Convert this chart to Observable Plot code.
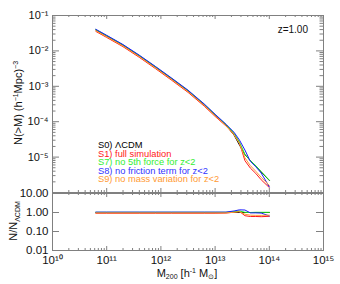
<!DOCTYPE html>
<html><head><meta charset="utf-8">
<script src="https://cdn.jsdelivr.net/npm/d3@7"></script>
<script src="https://cdn.jsdelivr.net/npm/@observablehq/plot@0.6"></script>
<style>
body{margin:0;background:#fff;}
#wrap{position:relative;width:340px;height:284px;font-family:"Liberation Sans",Arial,sans-serif;}
#wrap svg{position:absolute;left:0;overflow:visible;}
</style></head>
<body><div id="wrap"></div>
<script>
// log10 of halo mass M200 [h^-1 Msun]
const logM = [10.8, 11.0, 11.3, 11.6, 11.9, 12.2, 12.5, 12.8, 13.0, 13.2, 13.35, 13.45, 13.55, 13.65, 13.75, 13.85, 14.0];
// log10 of N(>M) [(h^-1 Mpc)^-3] for each simulation
const S0 = [-1.41,-1.58,-1.84,-2.14,-2.46,-2.79,-3.13,-3.52,-3.81,-4.09,-4.38,-4.66,-4.93,-5.10,-5.25,-5.42,-5.66];
const S1 = [-1.45,-1.62,-1.88,-2.18,-2.50,-2.83,-3.17,-3.56,-3.85,-4.12,-4.36,-4.60,-5.10,-5.31,-5.46,-5.64,-5.86];
const S7 = [-1.40,-1.57,-1.83,-2.13,-2.45,-2.78,-3.12,-3.51,-3.80,-4.08,-4.33,-4.58,-4.92,-5.10,-5.24,-5.41,-5.65];
const S8 = [-1.39,-1.56,-1.82,-2.12,-2.44,-2.77,-3.11,-3.50,-3.79,-4.07,-4.30,-4.52,-4.80,-5.12,-5.27,-5.45,-5.84];
const S9 = [-1.43,-1.60,-1.86,-2.16,-2.48,-2.81,-3.15,-3.54,-3.83,-4.11,-4.37,-4.62,-5.02,-5.24,-5.40,-5.57,-5.80];

const seriesNames = ["S1) full simulation","S7) no 5th force for z<2","S8) no friction term for z<2","S9) no mass variation for z<2","S0) \u039BCDM"];
const seriesColors = ["#ff1a1a","#22ee22","#1a1aff","#ff9a33","#000000"];
const legendOrder = ["S0) \u039BCDM","S1) full simulation","S7) no 5th force for z<2","S8) no friction term for z<2","S9) no mass variation for z<2"];
const legendColors = ["#000000","#ff1a1a","#33ee33","#3333ff","#ff9a33"];

const xTickLabels = ["10\u00B9\u2070","10\u00B9\u00B9","10\u00B9\u00B2","10\u00B9\u00B3","10\u00B9\u2074","10\u00B9\u2075"];
const xTickValues = [1e10,1e11,1e12,1e13,1e14,1e15];
const yTickLabels = ["10\u207B\u00B9","10\u207B\u00B2","10\u207B\u00B3","10\u207B\u2074","10\u207B\u2075"];
const yTickValues = [1e-1,1e-2,1e-3,1e-4,1e-5];
const rTickLabels = ["10.00","1.00","0.10","0.01"];
const rTickValues = [10,1,0.1,0.01];

const allSeries = [S1,S7,S8,S9,S0];
const rows = [], ratioRows = [];
allSeries.forEach((s,k)=>{
  s.forEach((v,i)=>{
    rows.push({name:seriesNames[k], M:Math.pow(10,logM[i]), N:Math.pow(10,v), k});
    ratioRows.push({name:seriesNames[k], M:Math.pow(10,logM[i]), R:Math.pow(10,v - S0[i]), k});
  });
});

function minors(lo, hi){ const out=[]; for(let e=lo;e<hi;e++) for(let m=2;m<=9;m++) out.push(m*Math.pow(10,e)); return out; }
const xMinor = minors(10,15);
const yMajorAll = [1e-6,1e-5,1e-4,1e-3,1e-2,1e-1];
const yMinor = minors(-6,-1);

const W=340, ML=52, MR=17;
const frameC = "#808080";
const font = "Liberation Sans, Arial, sans-serif";

// main panel
const H1 = 193, MT1 = 15, MB1 = 1;
const fh1 = H1-MT1-MB1;
const colorScale = {domain: seriesNames, range: seriesColors};
const main = Plot.plot({
  width: W, height: H1, marginLeft: ML, marginRight: MR, marginTop: MT1, marginBottom: MB1,
  style: {fontFamily: font, background: "transparent"},
  x: {type: "log", domain: [1e10, 1e15], axis: null},
  y: {type: "log", domain: [1e-6, 1e-1], axis: null},
  color: colorScale,
  marks: [
    Plot.line(rows, {x: "M", y: "N", z: "name", stroke: "name", strokeWidth: 1, sort: {channel: "z"}}),
    Plot.tickX(xTickValues, {x: d=>d, insetTop: fh1-4, stroke: frameC}),
    Plot.tickX(xTickValues, {x: d=>d, insetBottom: fh1-4, stroke: frameC}),
    Plot.tickX(xMinor, {x: d=>d, insetTop: fh1-2, stroke: frameC}),
    Plot.tickX(xMinor, {x: d=>d, insetBottom: fh1-2, stroke: frameC}),
    Plot.tickY(yMajorAll, {y: d=>d, insetRight: (W-ML-MR)-7, stroke: frameC}),
    Plot.tickY(yMajorAll, {y: d=>d, insetLeft: (W-ML-MR)-7, stroke: frameC}),
    Plot.tickY(yMinor, {y: d=>d, insetRight: (W-ML-MR)-3.5, stroke: frameC}),
    Plot.tickY(yMinor, {y: d=>d, insetLeft: (W-ML-MR)-3.5, stroke: frameC}),
    Plot.text(yTickValues, {y: d=>d, text: (d,i)=>yTickLabels[i], frameAnchor: "left", dx: -4, textAnchor: "end", fontSize: 11, fill: "#111"}),
    Plot.frame({stroke: frameC, strokeWidth: 1})
  ]
});
main.style.top = "0px";

// ratio panel
const H2 = 92, MT2 = 1, MB2 = 34;
const fh2 = H2-MT2-MB2;
const ratio = Plot.plot({
  width: W, height: H2, marginLeft: ML, marginRight: MR, marginTop: MT2, marginBottom: MB2,
  style: {fontFamily: font, background: "transparent"},
  x: {type: "log", domain: [1e10, 1e15], axis: null},
  y: {type: "log", domain: [0.01, 10], axis: null},
  color: colorScale,
  marks: [
    Plot.line(ratioRows, {x: "M", y: "R", z: "name", stroke: "name", strokeWidth: 1, sort: {channel: "z"}}),
    Plot.tickX(xTickValues, {x: d=>d, insetTop: fh2-4, stroke: frameC}),
    Plot.tickX(xTickValues, {x: d=>d, insetBottom: fh2-4, stroke: frameC}),
    Plot.tickX(xMinor, {x: d=>d, insetTop: fh2-2, stroke: frameC}),
    Plot.tickX(xMinor, {x: d=>d, insetBottom: fh2-2, stroke: frameC}),
    Plot.tickY(rTickValues, {y: d=>d, insetRight: (W-ML-MR)-7, stroke: frameC}),
    Plot.tickY(rTickValues, {y: d=>d, insetLeft: (W-ML-MR)-7, stroke: frameC}),
    Plot.text(rTickValues, {y: d=>d, text: (d,i)=>rTickLabels[i], frameAnchor: "left", dx: -4, textAnchor: "end", fontSize: 11.5, fill: "#111"}),
    Plot.text(xTickValues, {x: d=>d, text: (d,i)=>xTickLabels[i], frameAnchor: "bottom", dy: 10, lineAnchor: "middle", fontSize: 11.5, fill: "#111"}),
    Plot.frame({stroke: frameC, strokeWidth: 1})
  ]
});
ratio.style.top = "192px";

const wrap = document.getElementById("wrap");
wrap.appendChild(main);
wrap.appendChild(ratio);

// text annotations
const ms = d3.select(main);
const yl = ms.append("text").attr("transform","translate(22,103) rotate(-90)")
  .attr("text-anchor","middle").attr("font-size",11).attr("fill","#111").attr("font-family",font);
yl.append("tspan").text("N(>M) (h");
yl.append("tspan").attr("font-size",7).attr("dy",-4).text("\u22121");
yl.append("tspan").attr("dy",4).text("Mpc)");
yl.append("tspan").attr("font-size",7).attr("dy",-4).text("\u22123");

ms.append("text").attr("x",308).attr("y",33).attr("text-anchor","end")
  .attr("font-size",10).attr("fill","#111").attr("font-family",font).text("z=1.00");

legendOrder.forEach((t,i)=>{
  ms.append("text").attr("x",98).attr("y",148.3+i*8.5).attr("font-size",9.3)
    .attr("text-anchor","start")
    .attr("fill",legendColors[i]).attr("font-family",font).text(t);
});

const rs = d3.select(ratio);
const rl = rs.append("text").attr("transform","translate(17,29) rotate(-90)")
  .attr("text-anchor","middle").attr("font-size",11).attr("fill","#111").attr("font-family",font);
rl.append("tspan").text("N/N");
rl.append("tspan").attr("font-size",7).attr("dy",3).text("\u039BCDM");

const xl = rs.append("text").attr("x",187).attr("y",85).attr("text-anchor","middle")
  .attr("font-size",11).attr("fill","#111").attr("font-family",font);
xl.append("tspan").text("M");
xl.append("tspan").attr("font-size",7).attr("dy",2).text("200");
xl.append("tspan").attr("dy",-2).text(" [h");
xl.append("tspan").attr("font-size",7).attr("dy",-4).text("-1");
xl.append("tspan").attr("dy",4).text(" M");
xl.append("tspan").attr("font-size",7).attr("dy",2).text("\u2299");
xl.append("tspan").attr("dy",-2).text("]");
</script></body></html>
